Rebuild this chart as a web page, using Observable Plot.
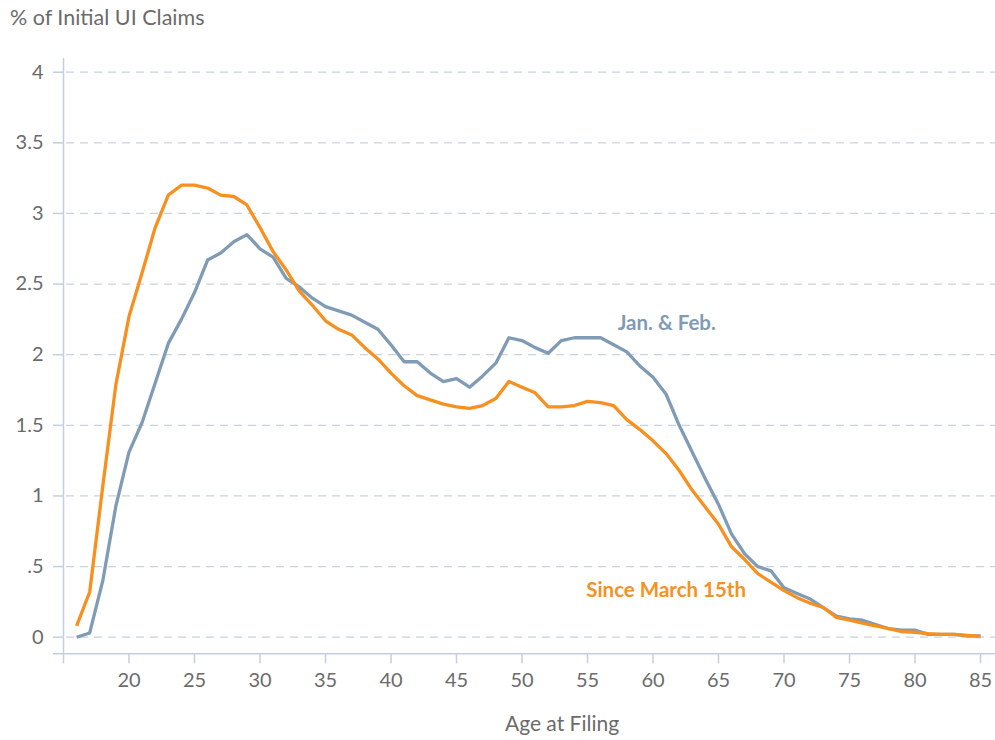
<!DOCTYPE html>
<html>
<head>
<meta charset="utf-8">
<script src="https://cdn.jsdelivr.net/npm/d3@7"></script>
<script src="https://cdn.jsdelivr.net/npm/@observablehq/plot@0.6"></script>
<style>
  html, body { margin: 0; padding: 0; background: #fff; overflow: hidden; }
  body { width: 995px; height: 740px; font-family: Lato, "Open Sans", sans-serif; }
  #title { height: 40px; line-height: 35px; padding-left: 10px; font-size: 21.5px; color: #6b6b6b; white-space: nowrap; }
  #chart { height: 660px; }
  #xlabel { position: relative; height: 40px; }
  #xlabel span { position: absolute; left: 562px; top: 3px; transform: translateX(-50%); line-height: 40px; font-size: 21px; color: #6b6b6b; white-space: nowrap; }
</style>
</head>
<body>
<div id="title">% of Initial UI Claims</div>
<div id="chart"></div>
<div id="xlabel"><span>Age at Filing</span></div>
<script>
const ages = [16,17,18,19,20,21,22,23,24,25,26,27,28,29,30,31,32,33,34,35,36,37,38,39,40,41,42,43,44,45,46,47,48,49,50,51,52,53,54,55,56,57,58,59,60,61,62,63,64,65,66,67,68,69,70,71,72,73,74,75,76,77,78,79,80,81,82,83,84,85];

const janFeb = [0.00,0.03,0.40,0.93,1.31,1.52,1.80,2.08,2.25,2.44,2.67,2.72,2.80,2.85,2.75,2.69,2.54,2.48,2.40,2.34,2.31,2.28,2.23,2.18,2.07,1.95,1.95,1.87,1.81,1.83,1.77,1.85,1.94,2.12,2.10,2.05,2.01,2.10,2.12,2.12,2.12,2.07,2.02,1.92,1.84,1.72,1.50,1.31,1.12,0.94,0.73,0.59,0.50,0.47,0.35,0.31,0.27,0.21,0.15,0.13,0.12,0.09,0.06,0.05,0.05,0.02,0.02,0.02,0.01,0.01];

const sinceMarch = [0.08,0.32,1.07,1.79,2.27,2.58,2.90,3.13,3.20,3.20,3.18,3.13,3.12,3.06,2.90,2.73,2.60,2.45,2.35,2.24,2.18,2.14,2.05,1.97,1.87,1.78,1.71,1.68,1.65,1.63,1.62,1.64,1.69,1.81,1.77,1.73,1.63,1.63,1.64,1.67,1.66,1.64,1.54,1.47,1.39,1.30,1.18,1.04,0.92,0.80,0.64,0.55,0.45,0.39,0.33,0.28,0.24,0.21,0.14,0.12,0.10,0.08,0.06,0.04,0.035,0.025,0.02,0.02,0.012,0.005];

const seriesNames = ["Jan. & Feb.", "Since March 15th"];
const seriesColors = ["#7f9bb5", "#f7901e"];

const xTicks = [15,20,25,30,35,40,45,50,55,60,65,70,75,80,85];
const yTicks = [0,0.5,1,1.5,2,2.5,3,3.5,4];
const yTickLabels = ["0",".5","1","1.5","2","2.5","3","3.5","4"];

// label anchor points (data coordinates)
const labelAge = [57.3, 54.9];
const labelValue = [2.22, 0.33];

const rows = [];
ages.forEach((a, i) => {
  rows.push({age: a, value: janFeb[i], series: seriesNames[0]});
});
ages.forEach((a, i) => {
  rows.push({age: a, value: sinceMarch[i], series: seriesNames[1]});
});
const labels = seriesNames.map((s, i) => ({text: s, age: labelAge[i], value: labelValue[i], color: seriesColors[i]}));

const xDomain = [15, 86.145];
const yDomain = [-0.1175, 4.097];
const axisColor = "#c3cfdd";
const textColor = "#6b6b6b";

const chart = Plot.plot({
  width: 995,
  height: 660,
  marginLeft: 63,
  marginRight: 0,
  marginTop: 18,
  marginBottom: 46.7,
  style: {fontFamily: "Lato, 'Open Sans', sans-serif", background: "#fff", overflow: "visible"},
  x: {domain: xDomain, axis: null},
  y: {domain: yDomain, axis: null},
  color: {domain: seriesNames, range: seriesColors},
  marks: [
    Plot.gridY(yTicks, {stroke: "#c8d3e0", strokeOpacity: 1, strokeWidth: 1.2, strokeDasharray: "8,6", strokeDashoffset: -3}),
    Plot.ruleX([xDomain[0]], {stroke: axisColor, strokeWidth: 1.5}),
    Plot.ruleY([yDomain[0]], {x1: xDomain[0] - 10 / 13.1, x2: xDomain[1], stroke: axisColor, strokeWidth: 1.5}),
    Plot.axisY(yTicks, {
      anchor: "left", tickSize: 10, tickPadding: 10, stroke: axisColor, strokeWidth: 1.5,
      fill: textColor, fontSize: 20, label: null,
      tickFormat: (d, i) => yTickLabels[yTicks.indexOf(d)]
    }),
    Plot.axisX(xTicks, {
      anchor: "bottom", tickSize: 10, tickPadding: 9, stroke: axisColor, strokeWidth: 1.5,
      fill: textColor, fontSize: 20, label: null,
      tickFormat: d => d === 15 ? "" : String(d)
    }),
    Plot.line(rows, {x: "age", y: "value", z: "series", stroke: "series", strokeWidth: 3.3, strokeLinejoin: "round", strokeLinecap: "butt"}),
    Plot.text(labels, {x: "age", y: "value", text: "text", fill: "color", textAnchor: "start", fontSize: 20.5, fontWeight: "bold"})
  ]
});
document.getElementById("chart").appendChild(chart);
</script>
</body>
</html>
